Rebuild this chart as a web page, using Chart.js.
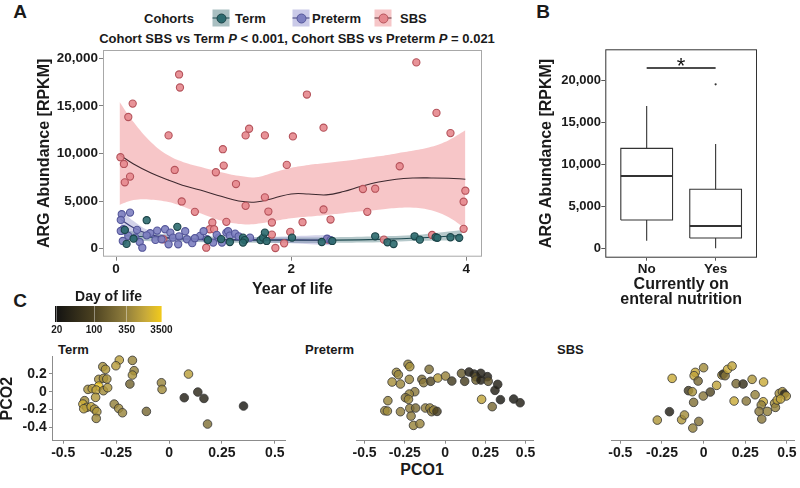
<!DOCTYPE html>
<html>
<head>
<meta charset="utf-8">
<script src="https://cdn.jsdelivr.net/npm/chart.js@4.4.1/dist/chart.umd.min.js"></script>
<style>
  body { margin: 0; width: 800px; height: 488px; background: #fff; position: relative; overflow: hidden;
         font-family: "Liberation Sans", Arial, sans-serif; font-weight: bold; color: #1a1a1a; }
  canvas { position: absolute; }
  .t { position: absolute; white-space: nowrap; line-height: 1; }
  .c { transform: translate(-50%, -50%); }
  .l { transform: translate(0, -50%); }
  .key { position: absolute; width: 17px; height: 17px; transform: translate(-50%, -50%); }
  .key i { position: absolute; left: 0; right: 0; top: 8px; height: 1px; }
  .key b { position: absolute; left: 3.5px; top: 3.5px; width: 8px; height: 8px; border-radius: 50%; border: 1px solid; }
</style>
</head>
<body>

<div class="t c" style="left:20px;top:11px;font-size:19px">A</div>
<div class="t c" style="left:543px;top:11px;font-size:19px">B</div>
<div class="t c" style="left:20px;top:300px;font-size:19px">C</div>

<!-- panel A legend + subtitle -->
<div class="t c" style="left:169px;top:18px;font-size:13px">Cohorts</div>
<div class="key" style="left:221px;top:18px;background:#a9bfc1"><i style="background:#1d4a50"></i><b style="background:#2c6a6e;border-color:#1b4448"></b></div>
<div class="t l" style="left:235px;top:18px;font-size:13px">Term</div>
<div class="key" style="left:301px;top:18px;background:#cacae8"><i style="background:#3d3f7a"></i><b style="background:#7d7fc0;border-color:#54569a"></b></div>
<div class="t l" style="left:312px;top:18px;font-size:13px">Preterm</div>
<div class="key" style="left:383px;top:18px;background:#f6c6c8"><i style="background:#5a3038"></i><b style="background:#e5878d;border-color:#b5535b"></b></div>
<div class="t l" style="left:400px;top:18px;font-size:13px">SBS</div>
<div class="t c" style="left:297px;top:38px;font-size:13px">Cohort SBS vs Term <i>P</i> &lt; 0.001, Cohort SBS vs Preterm <i>P</i> = 0.021</div>

<!-- panel C strip titles -->
<div class="t l" style="left:58px;top:349px;font-size:13px">Term</div>
<div class="t l" style="left:305px;top:349px;font-size:13px">Preterm</div>
<div class="t l" style="left:557px;top:349px;font-size:13px">SBS</div>
<div class="t c" style="left:422px;top:470px;font-size:16px">PCO1</div>

<canvas id="chartA" width="495" height="300" style="left:0;top:0"></canvas>
<canvas id="chartB" width="280" height="310" style="left:520px;top:0"></canvas>
<canvas id="colorBar" width="140" height="50" style="left:40px;top:288px"></canvas>
<canvas id="pcoTerm" width="295" height="148" style="left:0;top:340px"></canvas>
<canvas id="pcoPreterm" width="255" height="148" style="left:295px;top:340px"></canvas>
<canvas id="pcoSbs" width="250" height="148" style="left:550px;top:340px"></canvas>

<script>
// ---- Panel A: ARG abundance vs year of life, [year, RPKM] ----
const sbsPts = [[0.05,9610],[0.09,8900],[0.10,6970],[0.16,7570],[0.14,13830],[0.19,15240],[0.72,18300],[0.73,16930],
  [0.60,11900],[0.67,8270],[0.75,4960],[0.90,3870],[1.14,8030],[1.22,10450],[1.23,8730],[1.37,6790],[1.10,2750],
  [1.26,2820],[1.48,11900],[1.52,12600],[1.48,4500],[1.70,11900],[1.70,5390],[1.74,3900],[1.07,2040],[1.12,2040],
  [1.03,100],[1.78,2750],[1.78,1480],[1.82,70],[1.92,560],[1.95,8800],[2.02,11790],[1.99,1760],[2.13,2780],
  [2.18,16190],[2.37,12710],[2.37,4120],[2.45,3060],[2.42,950],[2.82,6270],[2.96,6300],[2.87,3870],[3.06,950],
  [3.24,8660],[3.43,19570],[3.66,14260],[3.82,12140],[3.61,1440],[3.99,6090],[3.97,4930],[3.97,2080],[0.54,990]];
const pretermPts = [[0.065,3620],[0.16,3790],[0.054,3020],[0.084,2040],[0.10,1900],[0.054,1860],[0.14,1340],
  [0.077,810],[0.24,1970],[0.22,1160],[0.27,700],[0.30,100],[0.39,1620],[0.47,1900],[0.56,2040],[0.45,920],
  [0.52,990],[0.62,1690],[0.65,1160],[0.60,460],[0.71,460],[0.79,1830],[0.81,990],[0.87,580],[0.96,1340],
  [1.00,1830],[1.04,990],[1.11,640],[1.17,1160],[1.21,640],[1.26,1690],[1.28,1830],[1.30,1370],[1.36,1580],
  [1.40,1300],[1.53,1160],[2.41,1050],[2.45,900],[0.35,1400],[0.90,1100],[1.15,1450],[0.72,1300]];
const termPts = [[0.35,2990],[0.70,2290],[0.20,1050],[0.10,1970],[0.12,500],[1.45,1160],[1.47,900],[1.45,640],
  [1.65,900],[1.68,1160],[1.70,1690],[1.72,810],[2.01,1160],[2.35,700],[2.47,810],[2.96,1300],[3.10,670],
  [3.17,490],[3.41,1300],[3.47,950],[3.65,1200],[3.67,1140],[3.82,1200],[3.92,1140],[1.05,900],[1.30,700],[1.20,1000]];

// loess fits (fit, lower and upper band)
const sbsFitYear = [0.04,0.2,0.4,0.6,0.8,1.0,1.2,1.4,1.6,1.8,2.0,2.2,2.4,2.6,2.8,3.0,3.2,3.4,3.6,3.8,3.99];
const sbsFit     = [9860,8900,7950,7200,6550,6050,5500,5000,4900,5300,5750,5750,5650,6000,6550,7000,7300,7420,7430,7400,7300];
const sbsFitHigh = [15420,13300,11190,9790,9000,8500,8030,7650,7500,8000,8500,8800,9000,9200,9450,9700,10000,10300,10700,11400,12430];
const sbsFitLow  = [4600,5100,5150,4900,4300,3600,2950,2600,2600,2900,3200,3380,3550,3730,3920,4100,4280,4300,4030,3300,2100];
const ptFitYear  = [0.05,0.2,0.4,0.6,0.8,1.0,1.3,1.6,2.0,2.45];
const ptFit      = [3100,2200,1450,1150,1000,950,950,950,930,900];
const ptFitHigh  = [4150,2900,1800,1450,1250,1150,1150,1200,1300,1450];
const ptFitLow   = [2050,1500,1100,850,750,750,750,700,560,350];
const termFitYear = [0.1,0.5,1.0,1.5,2.0,2.5,3.0,3.5,3.95];
const termFit     = [1350,1150,980,900,880,900,980,1150,1400];
const termFitHigh = [1900,1550,1300,1200,1170,1200,1300,1500,1950];
const termFitLow  = [800,750,680,620,600,620,680,820,880];

const yearTicks = [0, 2, 4];
const argTicks = [0, 5000, 10000, 15000, 20000];

// ---- Panel B: boxplot by enteral nutrition ----
const boxCats = ['No', 'Yes'];
const boxLow  = [900, 0];
const boxQ1   = [3360, 1220];
const boxMed  = [8590, 2650];
const boxQ3   = [11880, 7010];
const boxHigh = [16910, 12390];
const boxOutliers = [[2, 19490]];
const sigY = 21420;

// ---- Panel C: PCoA, [PCO1, PCO2, day of life] ----
const pcoTerm = [[-0.235,0.354,900],[-0.173,0.350,400],[-0.251,0.29,800],[-0.313,0.28,500],[-0.30,0.25,700],
  [-0.165,0.235,350],[-0.173,0.186,600],[-0.332,0.138,600],[-0.31,0.149,500],[-0.294,0.142,600],[-0.185,0.086,200],
  [-0.332,0.063,3000],[-0.383,0.026,600],[-0.363,0.034,800],[-0.344,0.019,1000],[-0.31,0.011,500],[-0.29,0.045,700],
  [-0.347,-0.063,700],[-0.399,-0.1,450],[-0.407,-0.138,1500],[-0.389,-0.175,700],[-0.403,-0.19,900],
  [-0.368,-0.168,1100],[-0.352,-0.194,600],[-0.341,-0.223,700],[-0.344,-0.298,450],[-0.259,-0.138,350],
  [-0.238,-0.186,450],[-0.22,-0.235,400],[-0.107,-0.22,220],[-0.036,0.1,400],[-0.033,0.026,500],[0.092,0.197,900],
  [0.072,-0.067,30],[0.136,-0.004,40],[0.165,-0.075,35],[0.352,-0.16,25],[0.182,-0.361,250]];
const pcoPreterm = [[-0.23,0.306,400],[-0.219,0.28,550],[-0.302,0.216,450],[-0.29,0.19,400],[-0.329,0.108,550],
  [-0.277,0.086,400],[-0.222,0.138,400],[-0.144,0.138,220],[-0.133,0.101,300],[-0.099,0.25,250],[-0.089,0.116,110],
  [-0.045,0.153,800],[0.003,0.175,380],[0.042,0.119,75],[0.102,0.205,160],[0.122,0.116,85],[0.149,0.22,30],
  [0.18,0.197,35],[0.192,0.168,140],[0.192,0.13,180],[0.222,0.205,30],[0.222,0.13,30],[0.263,0.168,30],
  [0.268,0.116,140],[0.327,0.082,30],[0.31,0.015,30],[0.344,-0.089,25],[0.227,-0.085,1000],[0.293,-0.167,220],
  [0.426,-0.082,25],[0.466,-0.123,30],[-0.188,0,300],[-0.222,-0.026,400],[-0.246,-0.067,260],[-0.227,-0.085,450],
  [-0.355,-0.1,400],[-0.374,-0.212,400],[-0.358,-0.216,450],[-0.277,-0.223,330],[-0.219,-0.186,330],
  [-0.183,-0.182,220],[-0.211,-0.272,330],[-0.196,-0.376,400],[-0.156,-0.357,380],[-0.122,-0.182,330],
  [-0.094,-0.182,400],[-0.083,-0.223,300],[-0.07,-0.205,450],[-0.05,-0.22,85]];
const pcoSbs = [[-0.189,0.149,1300],[-0.05,0.216,1300],[-0.057,0.179,1000],[0,0.268,500],[-0.033,0.119,220],
  [-0.091,0.012,75],[-0.068,0,600],[-0.002,-0.048,300],[0.04,-0.004,110],[-0.06,-0.119,260],[0.078,0.071,1000],
  [0.11,0.186,600],[0.119,0.197,55],[0.129,0.179,300],[0.144,0.25,1300],[0.171,0.287,1000],[0.195,0.09,220],
  [0.237,0.086,55],[0.291,0.138,700],[0.36,0.108,1300],[0.309,-0.034,350],[0.183,-0.104,1300],[0.256,-0.104,300],
  [-0.205,-0.223,30],[-0.278,-0.317,700],[-0.132,-0.313,700],[-0.115,-0.26,500],[-0.029,-0.332,260],
  [-0.065,-0.406,350],[0.358,-0.112,1300],[0.346,-0.149,350],[0.333,-0.22,300],[0.349,-0.305,300],
  [0.383,-0.22,350],[0.426,-0.13,500],[0.431,-0.175,350],[0.442,-0.093,1000],[0.454,-0.019,500],[0.473,0,600],
  [0.485,-0.026,40],[0.496,-0.048,800],[0.462,-0.082,1000]];
const pco1Ticks = [-0.5, -0.25, 0, 0.25, 0.5];
const pco2Ticks = [-0.4, -0.2, 0, 0.2];
const dayBreaks = [20, 100, 350, 3500];

// where each break sits along the colour bar (0..1)
const breakPos = [0.016, 0.365, 0.67, 0.995];
const barStops = [[0, '#111111'], [0.35, '#4a4020'], [0.65, '#8e7c3c'], [0.85, '#c8aa3a'], [1, '#f3cb1a']];

Chart.defaults.font.family = '"Liberation Sans", Arial, sans-serif';
Chart.defaults.font.weight = 'bold';
Chart.defaults.color = '#1a1a1a';
Chart.defaults.animation = false;
Chart.defaults.plugins.legend.display = false;
Chart.defaults.plugins.tooltip.enabled = false;

const frame = {
  id: 'frame',
  afterDraw(chart, args, opts) {
    const a = chart.chartArea, c = chart.ctx;
    c.save();
    c.strokeStyle = opts.color || '#999';
    c.lineWidth = 1;
    c.strokeRect(a.left + 0.5, a.top + 0.5, a.right - a.left - 1, a.bottom - a.top - 1);
    c.restore();
  }
};

const xy = arr => arr.map(p => ({ x: p[0], y: p[1] }));
const zip = (xs, ys) => xs.map((x, i) => ({ x: x, y: ys[i] }));

function bandSets(xs, hi, lo, color) {
  return [
    { type: 'line', data: zip(xs, hi), fill: '+1', backgroundColor: color, borderWidth: 0,
      pointRadius: 0, tension: 0.4, order: 3 },
    { type: 'line', data: zip(xs, lo), fill: false, borderWidth: 0,
      pointRadius: 0, tension: 0.4, order: 3 }
  ];
}
function fitLine(xs, ys, color) {
  return { type: 'line', data: zip(xs, ys), borderColor: color, borderWidth: 1.1, fill: false,
    pointRadius: 0, tension: 0.4, order: 2 };
}
function dots(arr, fill, edge) {
  return { data: xy(arr), backgroundColor: fill, borderColor: edge, borderWidth: 1.1, pointRadius: 3.6, order: 1 };
}

// Panel A
new Chart(document.getElementById('chartA'), {
  type: 'scatter',
  data: {
    datasets: [
      ...bandSets(sbsFitYear, sbsFitHigh, sbsFitLow, 'rgba(236,118,124,0.42)'),
      ...bandSets(ptFitYear, ptFitHigh, ptFitLow, 'rgba(125,127,192,0.35)'),
      ...bandSets(termFitYear, termFitHigh, termFitLow, 'rgba(60,110,116,0.38)'),
      fitLine(sbsFitYear, sbsFit, '#3e2a30'),
      fitLine(ptFitYear, ptFit, '#3d3f7a'),
      fitLine(termFitYear, termFit, '#1d4a50'),
      dots(termPts, 'rgba(44,106,110,0.9)', '#1b4448'),
      dots(pretermPts, 'rgba(125,127,192,0.9)', '#54569a'),
      dots(sbsPts, 'rgba(229,135,141,0.9)', '#b5535b')
    ]
  },
  options: {
    responsive: false,
    layout: { padding: { top: 50, right: 13, left: 0, bottom: 0 } },
    scales: {
      x: {
        type: 'linear', min: -0.149, max: 4.18,
        afterBuildTicks: s => { s.ticks = yearTicks.map(v => ({ value: v })); },
        afterFit: s => { s.height = 43.3; },
        grid: { drawOnChartArea: false, tickLength: 4, color: '#808080' },
        border: { display: false },
        ticks: { font: { size: 13.5 }, padding: 0.5, maxRotation: 0 },
        title: { display: true, text: 'Year of life', font: { size: 16 }, padding: { top: 0, bottom: 1.1 } }
      },
      y: {
        min: -843, max: 20870,
        afterBuildTicks: s => { s.ticks = argTicks.map(v => ({ value: v })); },
        afterFit: s => { s.width = 103; },
        grid: { drawOnChartArea: false, tickLength: 4, color: '#808080' },
        border: { display: false },
        ticks: { font: { size: 13.5 }, padding: 1, callback: v => v.toLocaleString('en-US') },
        title: { display: true, text: 'ARG Abundance [RPKM]', font: { size: 16 }, padding: { top: 35.4, bottom: 0 } }
      }
    },
    plugins: { frame: { color: '#a8a8a8' } }
  },
  plugins: [frame]
});

// Panel B
const boxHalf = 0.375;
const boxSets = [];
boxCats.forEach((cat, i) => {
  const x = i + 1;
  const seg = pts => ({ type: 'line', data: pts, borderColor: '#333', borderWidth: 1.1, pointRadius: 0, fill: false });
  boxSets.push(seg([{ x: x - boxHalf, y: boxQ1[i] }, { x: x + boxHalf, y: boxQ1[i] }, { x: x + boxHalf, y: boxQ3[i] },
    { x: x - boxHalf, y: boxQ3[i] }, { x: x - boxHalf, y: boxQ1[i] }]));
  boxSets.push(Object.assign(seg([{ x: x - boxHalf, y: boxMed[i] }, { x: x + boxHalf, y: boxMed[i] }]), { borderWidth: 2 }));
  boxSets.push(seg([{ x: x, y: boxLow[i] }, { x: x, y: boxQ1[i] }]));
  boxSets.push(seg([{ x: x, y: boxQ3[i] }, { x: x, y: boxHigh[i] }]));
});
boxSets.push({ data: xy(boxOutliers), backgroundColor: '#333', borderWidth: 0, pointRadius: 1.1 });
boxSets.push({ type: 'line', data: [{ x: 1, y: sigY }, { x: 2, y: sigY }], borderColor: '#111', borderWidth: 1.6, pointRadius: 0 });

const sigStar = {
  id: 'sigStar',
  afterDatasetsDraw(chart) {
    const c = chart.ctx;
    const x = chart.scales.x.getPixelForValue(1.5);
    const y = chart.scales.y.getPixelForValue(sigY);
    c.save();
    c.font = '22px "Liberation Sans", Arial, sans-serif';
    c.fillStyle = '#111';
    c.textAlign = 'center';
    c.textBaseline = 'alphabetic';
    c.fillText('*', x, y + 4.5);
    c.restore();
  }
};

new Chart(document.getElementById('chartB'), {
  type: 'scatter',
  data: { datasets: boxSets },
  options: {
    responsive: false,
    layout: { padding: { top: 49.3, right: 43, left: 0, bottom: 0 } },
    scales: {
      x: {
        type: 'linear', min: 0.4, max: 2.6,
        afterBuildTicks: s => { s.ticks = boxCats.map((c, i) => ({ value: i + 1 })); },
        afterFit: s => { s.height = 52.3; },
        grid: { drawOnChartArea: false, tickLength: 3, color: '#555' },
        border: { display: false },
        ticks: { font: { size: 13.5 }, padding: 0, callback: (v, i) => boxCats[i] },
        title: { display: true, text: ['Currently on', 'enteral nutrition'], font: { size: 16, lineHeight: 0.95 },
                 padding: { top: 0, bottom: 2.4 } }
      },
      y: {
        min: -1117, max: 23650,
        afterBuildTicks: s => { s.ticks = argTicks.map(v => ({ value: v })); },
        afterFit: s => { s.width = 85.3; },
        grid: { drawOnChartArea: false, tickLength: 4, color: '#555' },
        border: { display: false },
        ticks: { font: { size: 13 }, padding: 0.3, callback: v => v.toLocaleString('en-US') },
        title: { display: true, text: 'ARG Abundance [RPKM]', font: { size: 16 }, padding: { top: 17.4, bottom: 0 } }
      }
    },
    plugins: { frame: { color: '#333' } }
  },
  plugins: [frame, sigStar]
});

// Panel C colour mapping
function mixHex(a, b, t) {
  const pa = [1, 3, 5].map(k => parseInt(a.substr(k, 2), 16));
  const pb = [1, 3, 5].map(k => parseInt(b.substr(k, 2), 16));
  return pa.map((v, k) => Math.round(v + (pb[k] - v) * t));
}
function barColor(f, alpha) {
  f = Math.max(0, Math.min(1, f));
  for (let k = 1; k < barStops.length; k++) {
    if (f <= barStops[k][0]) {
      const t = (f - barStops[k - 1][0]) / (barStops[k][0] - barStops[k - 1][0]);
      const c = mixHex(barStops[k - 1][1], barStops[k][1], t);
      return `rgba(${c[0]},${c[1]},${c[2]},${alpha})`;
    }
  }
  return barStops[barStops.length - 1][1];
}
function dayToPos(d) {
  const L = Math.log(d);
  if (L <= Math.log(dayBreaks[0])) return breakPos[0];
  for (let k = 1; k < dayBreaks.length; k++) {
    const a = Math.log(dayBreaks[k - 1]), b = Math.log(dayBreaks[k]);
    if (L <= b) return breakPos[k - 1] + (L - a) / (b - a) * (breakPos[k] - breakPos[k - 1]);
  }
  return breakPos[breakPos.length - 1];
}

new Chart(document.getElementById('colorBar'), {
  type: 'bar',
  data: {
    labels: [''],
    datasets: [{
      data: [[0, 1]],
      barPercentage: 1, categoryPercentage: 1, borderWidth: 0,
      backgroundColor: ctx => {
        const a = ctx.chart.chartArea;
        if (!a) return '#000';
        const g = ctx.chart.ctx.createLinearGradient(a.left, 0, a.right, 0);
        barStops.forEach(s => g.addColorStop(s[0], s[1]));
        return g;
      }
    }]
  },
  options: {
    responsive: false,
    indexAxis: 'y',
    layout: { padding: { top: 0, right: 18, left: 15, bottom: 0 } },
    scales: {
      x: {
        type: 'linear', min: 0, max: 1,
        afterBuildTicks: s => { s.ticks = breakPos.map(v => ({ value: v })); },
        afterFit: s => { s.height = 16; },
        grid: { drawTicks: false, color: 'rgba(255,255,255,0.4)', z: 1 },
        border: { display: false },
        ticks: { font: { size: 10 }, padding: 2, callback: (v, i) => dayBreaks[i] }
      },
      y: { display: false }
    },
    plugins: {
      title: { display: true, text: 'Day of life', font: { size: 14, weight: 'bold' }, color: '#1a1a1a',
               padding: { top: 0.6, bottom: 0.6 } }
    }
  }
});

function pcoChart(id, pts, showY, padLeft, padRight) {
  return new Chart(document.getElementById(id), {
    type: 'scatter',
    data: {
      datasets: [{
        data: xy(pts),
        backgroundColor: pts.map(p => barColor(dayToPos(p[2]), 0.82)),
        borderColor: '#333333', borderWidth: 0.8, pointRadius: 4.3
      }]
    },
    options: {
      responsive: false,
      clip: false,
      layout: { padding: { top: 16.7, right: padRight, left: padLeft, bottom: 27.3 } },
      scales: {
        x: {
          type: 'linear', min: -0.553, max: 0.548,
          afterBuildTicks: s => { s.ticks = pco1Ticks.map(v => ({ value: v })); },
          afterFit: s => { s.height = 20; },
          grid: { drawOnChartArea: false, tickLength: 3, color: '#8c8c8c' },
          border: { display: true, color: '#8c8c8c', width: 1 },
          ticks: { font: { size: 14 }, padding: 0.6, callback: v => String(v) }
        },
        y: {
          display: showY,
          min: -0.547, max: 0.391,
          afterBuildTicks: s => { s.ticks = pco2Ticks.map(v => ({ value: v })); },
          afterFit: s => { s.width = 52; },
          grid: { drawOnChartArea: false, tickLength: 3, color: '#8c8c8c' },
          border: { display: true, color: '#8c8c8c', width: 1 },
          ticks: { font: { size: 14 }, padding: 2.3, callback: v => String(v) },
          title: { display: true, text: 'PCO2', font: { size: 16, lineHeight: 1 }, padding: { top: 0, bottom: 0 } }
        }
      }
    }
  });
}
pcoChart('pcoTerm', pcoTerm, true, 0, 10);
pcoChart('pcoPreterm', pcoPreterm, false, 9, 16.7);
pcoChart('pcoSbs', pcoSbs, false, 9.5, 5);
</script>
</body>
</html>
